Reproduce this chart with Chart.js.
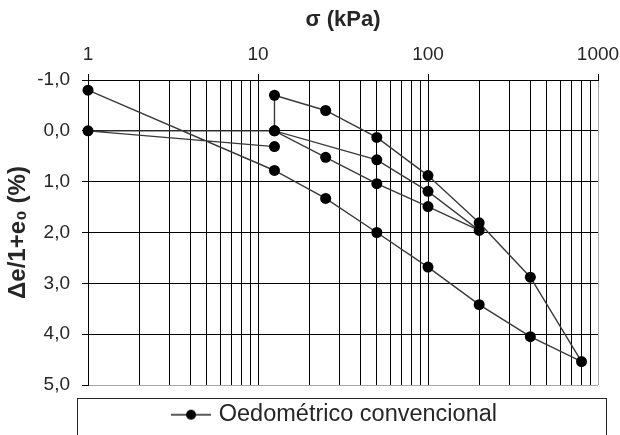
<!DOCTYPE html>
<html><head><meta charset="utf-8">
<script src="https://cdn.jsdelivr.net/npm/chart.js@4/dist/chart.umd.min.js"></script>
<style>html,body{margin:0;padding:0;background:#fff}</style>
</head><body>
<canvas id="c" width="620" height="435"></canvas>
<script>
// ---- data ----
const sigma  = [12.5, 1, 12.5, 25, 50, 100, 200, 100, 50, 12.5, 12.5, 25, 50, 100, 200, 400, 800, 400, 200, 100, 50, 25, 12.5, 1];
const strain = [0.31, 0, 0, 0.52, 1.04, 1.49, 1.96, 1.19, 0.57, 0, -0.7, -0.4, 0.13, 0.88, 1.81, 2.88, 4.54, 4.05, 3.42, 2.68, 2.0, 1.33, 0.78, -0.8];
const xDecades = [1, 10, 100];
const xMultipliers = [1, 2, 3, 4, 5, 6, 7, 8, 9];
const xMin = 1, xMax = 1000;
const yMin = -1, yMax = 5, yStep = 1;
const seriesLabel = 'Oedométrico convencional';
const xTitle = 'σ (kPa)';
const yTitle = 'Δe/1+e₀ (%)';

const xTickValues = [];
xDecades.forEach(d => xMultipliers.forEach(m => xTickValues.push(d * m)));
xTickValues.push(xMax);
const isDecade = v => Math.abs(Math.log10(v) - Math.round(Math.log10(v))) < 1e-9;

const FONT = 'Liberation Sans, Arial, sans-serif';
const TXT = '#262626';

// legend symbol: line with dot
const sym = document.createElement('canvas');
sym.width = 40; sym.height = 12;
(function(){
  const c = sym.getContext('2d');
  c.strokeStyle = '#222'; c.lineWidth = 1.5;
  c.beginPath(); c.moveTo(0, 6); c.lineTo(40, 6); c.stroke();
  c.fillStyle = '#000'; c.beginPath(); c.arc(20, 6, 5, 0, Math.PI * 2); c.fill();
})();

const framePlugin = {
  id: 'frame',
  afterInit(chart) {
    const lg = chart.legend;
    if (lg) {
      const orig = lg.fit;
      lg.fit = function() { orig.call(this); this.height = 50; };
    }
  },
  beforeDraw(chart) {
    const lg = chart.legend, a = chart.chartArea;
    if (lg) { lg.left = a.left - 7; lg.right = a.right - 7; }
  },
  afterDraw(chart) {
    const ctx = chart.ctx, a = chart.chartArea;
    ctx.save();
    ctx.strokeStyle = '#262626'; ctx.lineWidth = 1;
    ctx.strokeRect(Math.round(a.left - 11) + 0.5, Math.round(a.bottom + 13) + 0.5, Math.round(a.right - a.left + 19), 80);
    ctx.restore();
  }
};

new Chart(document.getElementById('c'), {
  type: 'line',
  data: {
    datasets: [{
      label: seriesLabel,
      data: sigma.map((s, i) => ({ x: s, y: strain[i] })),
      borderColor: '#3a3a3a',
      borderWidth: 1.4,
      pointRadius: 5.5,
      pointBackgroundColor: '#000',
      pointBorderColor: '#000',
      pointBorderWidth: 0,
      tension: 0,
      fill: false,
      clip: false
    }]
  },
  options: {
    responsive: false,
    animation: false,
    devicePixelRatio: 1,
    layout: { padding: { left: 0, right: 22, top: 0, bottom: 0 } },
    plugins: {
      tooltip: { enabled: false },
      legend: {
        position: 'bottom',
        fullSize: false,
        labels: {
          usePointStyle: true,
          pointStyle: sym,
          pointStyleWidth: 32,
          padding: 18,
          color: TXT,
          font: { family: FONT, size: 23.5 }
        }
      }
    },
    scales: {
      x: {
        type: 'logarithmic',
        position: 'top',
        min: xMin, max: xMax,
        afterBuildTicks: s => { s.ticks = xTickValues.map(v => ({ value: v })); },
        afterFit: s => { s.height = 80; s.paddingLeft = 0; s.paddingRight = 0; },
        ticks: {
          autoSkip: false, maxRotation: 0, minRotation: 0,
          padding: 8,
          color: TXT,
          font: { family: FONT, size: 19 },
          callback: v => isDecade(v) ? String(Math.round(v)) : ''
        },
        grid: {
          color: c => (c.tick && c.tick.value === xMax) ? '#a6a6a6' : '#000',
          lineWidth: 1,
          tickLength: 6,
          tickColor: c => (c.tick && isDecade(c.tick.value)) ? '#000' : 'rgba(0,0,0,0)'
        },
        border: { color: '#000', width: 1 },
        title: {
          display: true, text: xTitle, color: TXT,
          font: { family: FONT, size: 22, weight: 'bold' },
          padding: { top: 7, bottom: 0 }
        }
      },
      y: {
        type: 'linear',
        reverse: true,
        min: yMin, max: yMax,
        afterFit: s => { s.width = 88; },
        ticks: {
          stepSize: yStep,
          padding: 12,
          color: TXT,
          font: { family: FONT, size: 19 },
          callback: v => v.toFixed(1).replace('.', ',')
        },
        grid: {
          color: c => (c.tick && c.tick.value === yMax) ? '#a6a6a6' : '#000',
          lineWidth: 1,
          tickLength: 6,
          tickColor: '#000'
        },
        border: { color: '#000', width: 1 },
        title: {
          display: true, text: yTitle, color: TXT,
          font: { family: FONT, size: 24, weight: 'bold' },
          padding: { top: 4, bottom: 0 }
        }
      }
    }
  },
  plugins: [framePlugin]
});
</script>
</body></html>
